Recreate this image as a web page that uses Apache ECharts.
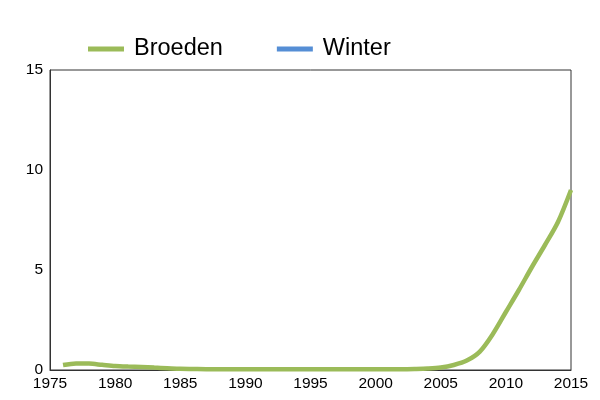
<!DOCTYPE html>
<html>
<head>
<meta charset="utf-8">
<script src="https://cdn.jsdelivr.net/npm/echarts@6/dist/echarts.min.js"></script>
<style>html,body{margin:0;padding:0;background:#fff}#c{width:600px;height:400px}</style>
</head>
<body>
<div id="c"></div>
<script>
const years = [1976,1977,1978,1979,1980,1981,1982,1983,1984,1985,1986,1987,1988,1989,1990,1991,1992,1993,1994,1995,1996,1997,1998,1999,2000,2001,2002,2003,2004,2005,2006,2007,2008,2009,2010,2011,2012,2013,2014,2015];
const broeden = [0.25,0.33,0.32,0.26,0.2,0.17,0.15,0.12,0.09,0.06,0.05,0.04,0.04,0.04,0.04,0.04,0.04,0.04,0.04,0.04,0.04,0.04,0.04,0.04,0.04,0.04,0.04,0.05,0.07,0.12,0.25,0.47,0.92,1.8,2.9,4.0,5.15,6.25,7.4,9.0];
const winter = [];
const yTicks = [0,5,10,15];

const chart = echarts.init(document.getElementById('c'));
chart.setOption({
  animation: false,
  legend: {
    left: 83, top: 32,
    itemWidth: 36, itemHeight: 5, itemGap: 54,
    textStyle: {fontSize: 23.5, color: '#000', padding: [0,0,0,5], fontFamily: 'Liberation Sans, Arial, sans-serif'},
    data: [{name:'Broeden', icon:'rect'}, {name:'Winter', icon:'rect'}]
  },
  grid: {left: 50, right: 29, top: 70, bottom: 30, show: true, borderColor: '#333', borderWidth: 1},
  xAxis: {
    type: 'value', min: 1975, max: 2015, interval: 5,
    axisLine: {show: true, lineStyle: {color: '#333'}},
    axisTick: {show: false},
    splitLine: {show: false},
    axisLabel: {fontSize: 15.5, color: '#000', margin: 6, formatter: v => String(v), fontFamily: 'Liberation Sans, Arial, sans-serif'}
  },
  yAxis: {
    type: 'value', min: yTicks[0], max: yTicks[yTicks.length-1], interval: 5,
    axisLine: {show: true, lineStyle: {color: '#333'}},
    axisTick: {show: false},
    splitLine: {show: false},
    axisLabel: {fontSize: 15.5, color: '#000', margin: 7, formatter: v => String(v), fontFamily: 'Liberation Sans, Arial, sans-serif'}
  },
  series: [
    {name: 'Broeden', type: 'line', smooth: 0.3, showSymbol: false,
     lineStyle: {width: 4.5, color: '#9BBB59'}, itemStyle: {color: '#9BBB59'},
     data: years.map((y,i)=>[y, broeden[i]])},
    {name: 'Winter', type: 'line', smooth: 0.3, showSymbol: false,
     lineStyle: {width: 4.5, color: '#558ED5'}, itemStyle: {color: '#558ED5'},
     data: winter.map((v,i)=>[years[i], v])}
  ]
});
</script>
</body>
</html>
